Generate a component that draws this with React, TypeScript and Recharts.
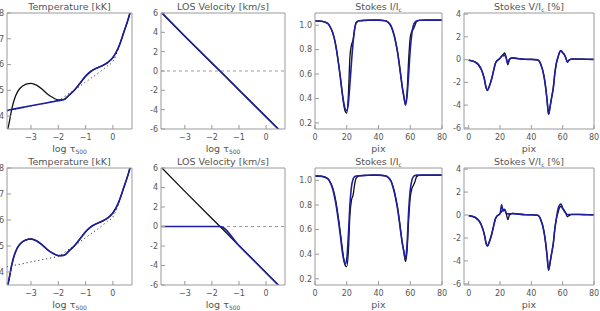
import { Line, LineChart, ReferenceLine, XAxis, YAxis } from "recharts";

// optical depth grid (log tau_500) for the temperature panels
const tauT = [
  -3.88, -3.8, -3.7, -3.6, -3.5, -3.4, -3.2, -3.0, -2.8, -2.6, -2.4, -2.2, -2.0,
  -1.8, -1.6, -1.4, -1.2, -1.0, -0.8, -0.6, -0.4, -0.2, 0.0, 0.2, 0.4, 0.6, 0.7,
];
// model with the chromospheric-like bump
const tempBump = [
  3.35, 3.75, 4.3, 4.68, 4.93, 5.08, 5.23, 5.27, 5.2, 5.05, 4.86, 4.72, 4.63,
  4.64, 4.82, 5.02, 5.28, 5.55, 5.74, 5.86, 5.95, 6.07, 6.27, 6.65, 7.25, 7.9, 8.3,
];
// top-row inversion (no bump)
const tempFlat = [
  4.22, 4.24, 4.26, 4.28, 4.3, 4.32, 4.36, 4.4, 4.44, 4.48, 4.52, 4.56, 4.6,
  4.64, 4.82, 5.02, 5.28, 5.55, 5.74, 5.86, 5.95, 6.07, 6.27, 6.65, 7.25, 7.9, 8.3,
];
// initial guess (dotted)
const tempInit = [
  4.2, 4.22, 4.24, 4.26, 4.28, 4.3, 4.34, 4.39, 4.43, 4.47, 4.51, 4.56, 4.6,
  4.74, 4.88, 5.02, 5.17, 5.32, 5.47, 5.62, 5.78, 5.95, 6.12, 6.6, 7.25, 7.9, 8.3,
];

const tauV = [-3.88, -3.0, -2.0, -1.7, -1.0, 0.0, 0.7];
const velModel = [6.1, 3.6, 0.82, 0.0, -1.96, -4.74, -6.7];
const velFitBottom = [0.0, 0.0, 0.0, 0.0, -1.96, -4.74, -6.7];

// wavelength pixels for the Stokes panels
const pix = [
  0, 4, 8, 10, 11, 12, 13, 14, 15, 16, 17, 18, 19, 20, 21, 22, 23, 24, 25, 26,
  28, 32, 36, 40, 44, 46, 48, 49, 50, 51, 52, 53, 54, 55, 56, 57, 58, 59, 60, 61,
  62, 63, 64, 66, 70, 76, 80,
];
const iObsTop = [
  1.035, 1.033, 1.015, 0.975, 0.945, 0.9, 0.84, 0.76, 0.67, 0.57,
  0.46, 0.36, 0.295, 0.28, 0.42, 0.74, 0.84, 0.88, 0.97, 1.025,
  1.037, 1.04, 1.042, 1.042, 1.037, 1.025, 0.99, 0.955, 0.91, 0.85,
  0.78, 0.69, 0.59, 0.49, 0.41, 0.355, 0.45, 0.72, 0.9, 0.95,
  0.97, 1.0, 1.03, 1.04, 1.042, 1.042, 1.042,
];
const iFitTop = [
  1.035, 1.033, 1.015, 0.975, 0.945, 0.9, 0.84, 0.76, 0.67, 0.57,
  0.46, 0.375, 0.315, 0.3, 0.36, 0.52, 0.7, 0.86, 0.97, 1.02,
  1.037, 1.04, 1.042, 1.042, 1.037, 1.025, 0.99, 0.955, 0.91, 0.85,
  0.78, 0.69, 0.59, 0.49, 0.42, 0.345, 0.42, 0.6, 0.8, 0.93,
  1.0, 1.025, 1.035, 1.04, 1.042, 1.042, 1.042,
];
const iObsBot = [
  1.035, 1.033, 1.015, 0.975, 0.945, 0.9, 0.84, 0.76, 0.67, 0.57,
  0.47, 0.37, 0.31, 0.3, 0.42, 0.72, 0.84, 0.88, 0.97, 1.02,
  1.037, 1.04, 1.042, 1.042, 1.037, 1.025, 0.99, 0.955, 0.91, 0.85,
  0.78, 0.69, 0.59, 0.49, 0.42, 0.34, 0.43, 0.68, 0.86, 0.93,
  0.96, 0.99, 1.03, 1.04, 1.042, 1.042, 1.042,
];
const iFitBot = [
  1.035, 1.033, 1.013, 0.97, 0.935, 0.885, 0.82, 0.74, 0.65, 0.55,
  0.44, 0.36, 0.32, 0.36, 0.55, 0.8, 0.95, 1.01, 1.03, 1.035,
  1.037, 1.04, 1.042, 1.042, 1.037, 1.025, 0.99, 0.95, 0.9, 0.84,
  0.77, 0.68, 0.58, 0.49, 0.42, 0.36, 0.48, 0.75, 0.92, 1.0,
  1.03, 1.04, 1.042, 1.042, 1.042, 1.042, 1.042,
];
const vObsTop = [
  -0.05, -0.2, -0.85, -1.7, -2.4, -2.7, -2.4, -2.0, -1.5, -0.9,
  -0.35, -0.1, 0.0, 0.12, 0.3, 0.45, 0.6, 0.15, -0.45, 0.0,
  0.15, 0.08, 0.03, 0.02, -0.02, -0.4, -1.4, -2.3, -3.5, -4.8,
  -4.1, -3.3, -2.5, -1.2, -0.3, 0.2, 0.65, 0.8, 0.6, 0.45,
  0.15, -0.25, -0.05, 0.05, 0.05, 0.03, 0.02,
];
const vFitTop = [
  -0.05, -0.2, -0.85, -1.7, -2.4, -2.7, -2.4, -2.0, -1.5, -0.9,
  -0.35, -0.1, 0.0, 0.12, 0.3, 0.35, 0.4, 0.1, -0.35, 0.05,
  0.15, 0.08, 0.03, 0.02, -0.02, -0.4, -1.4, -2.3, -3.5, -4.8,
  -4.1, -3.3, -2.5, -1.2, -0.3, 0.2, 0.65, 0.8, 0.6, 0.45,
  0.15, -0.2, -0.05, 0.05, 0.05, 0.03, 0.02,
];
const vObsBot = [
  -0.05, -0.2, -0.85, -1.7, -2.4, -2.7, -2.4, -2.0, -1.5, -0.9,
  -0.35, -0.1, 0.0, 0.12, 0.3, 0.5, 0.45, 0.1, -0.4, 0.0,
  0.15, 0.08, 0.03, 0.02, -0.02, -0.4, -1.4, -2.3, -3.5, -4.8,
  -4.1, -3.3, -2.5, -1.2, -0.3, 0.2, 0.65, 0.75, 0.55, 0.4,
  0.15, -0.15, -0.05, 0.05, 0.05, 0.03, 0.02,
];
const vFitBot = [
  -0.05, -0.2, -0.85, -1.7, -2.4, -2.7, -2.4, -2.0, -1.5, -0.9,
  -0.35, -0.1, 0.0, 0.1, 0.9, 0.35, 0.5, 0.15, 0.1, 0.1,
  0.12, 0.08, 0.03, 0.02, -0.02, -0.4, -1.4, -2.3, -3.5, -4.8,
  -4.1, -3.3, -2.5, -1.2, -0.3, 0.5, 0.85, 0.95, 0.6, 0.35,
  0.15, 0.05, 0.05, 0.05, 0.05, 0.03, 0.02,
];

const tauTicks = [-3, -2, -1, 0];
const pixTicks = [0, 20, 40, 60, 80];
const tempTicks = [4, 5, 6, 7, 8];
const velTicks = [-6, -4, -2, 0, 2, 4, 6];
const iTicks = [0.2, 0.4, 0.6, 0.8, 1.0];
const vTicks = [-6, -4, -2, 0, 2, 4];

const FRAME = "#9a9a9a";
const TXT = "#555";
const BLUE = "#1e1ea0";
const BLACK = "#111";
const FONT = "'DejaVu Sans', sans-serif";

const YW = 22; // room kept left of each plot for the y tick labels
const RM = 10; // room kept right of each plot (last x label)

const zip = (xs: number[], ys: number[]) => xs.map((x, i) => ({ x, y: ys[i] }));
const tauFmt = (v: number) => (v < 0 ? `\u2212${-v}` : `${v}`);

type Series = { data: { x: number; y: number }[]; color: string; width: number; dash?: string };

type PanelProps = {
  x0: number;
  x1: number;
  y0: number;
  y1: number;
  xDomain: [number, number];
  xTicks: number[];
  xFmt?: (v: number) => string;
  yDomain: [number, number];
  yTicks: number[];
  yFmt?: (v: number) => string;
  series: Series[];
  zeroLine?: boolean;
};

const Panel = (p: PanelProps) => {
  const w = p.x1 - p.x0;
  const h = p.y1 - p.y0;
  const tickStyle = { fill: TXT, fontSize: 8, fontFamily: FONT };
  return (
    <div style={{ position: "absolute", left: p.x0 - YW, top: p.y0 - 4 }}>
      <LineChart
        width={w + YW + RM}
        height={h + 24}
        margin={{ top: 4, right: RM, bottom: 0, left: 0 }}
      >
        <XAxis
          xAxisId="x"
          type="number"
          dataKey="x"
          domain={p.xDomain}
          ticks={p.xTicks}
          interval={0}
          allowDataOverflow
          tickFormatter={p.xFmt}
          height={20}
          tickSize={-4}
          tickMargin={9}
          stroke={FRAME}
          tick={tickStyle}
        />
        <XAxis
          xAxisId="top"
          orientation="top"
          mirror
          type="number"
          domain={p.xDomain}
          ticks={p.xTicks}
          interval={0}
          allowDataOverflow
          tick={false}
          tickSize={4}
          stroke={FRAME}
        />
        <YAxis
          yAxisId="y"
          type="number"
          domain={p.yDomain}
          ticks={p.yTicks}
          interval={0}
          allowDataOverflow
          tickFormatter={p.yFmt}
          width={YW}
          tickSize={-4}
          tickMargin={7}
          stroke={FRAME}
          tick={tickStyle}
        />
        <YAxis
          yAxisId="right"
          orientation="right"
          mirror
          type="number"
          domain={p.yDomain}
          ticks={p.yTicks}
          interval={0}
          allowDataOverflow
          tick={false}
          tickSize={4}
          stroke={FRAME}
        />
        {p.zeroLine && (
          <ReferenceLine xAxisId="x" yAxisId="y" y={0} stroke={FRAME} strokeDasharray="3 3" />
        )}
        {p.series.map((s, i) => (
          <Line
            key={i}
            xAxisId="x"
            yAxisId="y"
            data={s.data}
            dataKey="y"
            type="monotone"
            stroke={s.color}
            strokeWidth={s.width}
            strokeDasharray={s.dash}
            dot={false}
            activeDot={false}
            isAnimationActive={false}
          />
        ))}
      </LineChart>
    </div>
  );
};

const rows = [
  { y0: 13, y1: 129 },
  { y0: 168, y1: 285 },
];
const cols = [
  { x0: 7, x1: 132 },
  { x0: 161, x1: 285 },
  { x0: 315, x1: 442 },
  { x0: 464, x1: 594 },
];

const Title = ({ x0, x1, y, children }: { x0: number; x1: number; y: number; children: any }) => (
  <div
    style={{
      position: "absolute",
      left: x0 - 20,
      width: x1 - x0 + 40,
      top: y,
      textAlign: "center",
      fontSize: 9.5,
      lineHeight: "11px",
      color: TXT,
      fontFamily: FONT,
      whiteSpace: "nowrap",
    }}
  >
    {children}
  </div>
);

const Sub = ({ children }: { children: any }) => (
  <span style={{ fontSize: 6, position: "relative", top: 2 }}>{children}</span>
);

const App = () => {
  const panels = rows.map((r, ri) => {
    const top = ri === 0;
    return [
      <Panel
        key={`t${ri}`}
        {...cols[0]}
        {...r}
        xDomain={[-3.88, 0.7]}
        xTicks={tauTicks}
        xFmt={tauFmt}
        yDomain={[3.5, 8]}
        yTicks={tempTicks}
        series={[
          { data: zip(tauT, tempInit), color: BLACK, width: 1, dash: "1 3" },
          { data: zip(tauT, tempBump), color: BLACK, width: 1.3 },
          { data: zip(tauT, top ? tempFlat : tempBump), color: BLUE, width: 1.6 },
        ]}
      />,
      <Panel
        key={`v${ri}`}
        {...cols[1]}
        {...r}
        xDomain={[-3.88, 0.7]}
        xTicks={tauTicks}
        xFmt={tauFmt}
        yDomain={[-6, 6]}
        yTicks={velTicks}
        zeroLine
        series={[
          { data: zip(tauV, velModel), color: BLACK, width: 1.3 },
          { data: zip(tauV, top ? velModel : velFitBottom), color: BLUE, width: 1.6 },
        ]}
      />,
      <Panel
        key={`i${ri}`}
        {...cols[2]}
        {...r}
        xDomain={[0, 80]}
        xTicks={pixTicks}
        yDomain={[0.15, 1.1]}
        yTicks={iTicks}
        yFmt={(v) => v.toFixed(1)}
        series={[
          { data: zip(pix, top ? iObsTop : iObsBot), color: BLACK, width: 1.3 },
          { data: zip(pix, top ? iFitTop : iFitBot), color: BLUE, width: 1.6 },
        ]}
      />,
      <Panel
        key={`s${ri}`}
        {...cols[3]}
        {...r}
        xDomain={[-3, 80]}
        xTicks={pixTicks}
        yDomain={[-6.1, 4.1]}
        yTicks={vTicks}
        series={[
          { data: zip(pix, top ? vObsTop : vObsBot), color: BLACK, width: 1.3 },
          { data: zip(pix, top ? vFitTop : vFitBot), color: BLUE, width: 1.6 },
        ]}
      />,
    ];
  });

  const titles = rows.map((r, ri) => [
    <Title key={`a${ri}`} x0={cols[0].x0} x1={cols[0].x1} y={r.y0 - 12}>
      Temperature [kK]
    </Title>,
    <Title key={`b${ri}`} x0={cols[1].x0} x1={cols[1].x1} y={r.y0 - 12}>
      LOS Velocity [km/s]
    </Title>,
    <Title key={`c${ri}`} x0={cols[2].x0} x1={cols[2].x1} y={r.y0 - 12}>
      Stokes I/I<Sub>c</Sub>
    </Title>,
    <Title key={`d${ri}`} x0={cols[3].x0} x1={cols[3].x1} y={r.y0 - 12}>
      Stokes V/I<Sub>c</Sub> [%]
    </Title>,
    <Title key={`e${ri}`} x0={cols[0].x0} x1={cols[0].x1} y={r.y1 + 14}>
      log τ<Sub>500</Sub>
    </Title>,
    <Title key={`f${ri}`} x0={cols[1].x0} x1={cols[1].x1} y={r.y1 + 14}>
      log τ<Sub>500</Sub>
    </Title>,
    <Title key={`g${ri}`} x0={cols[2].x0} x1={cols[2].x1} y={r.y1 + 14}>
      pix
    </Title>,
    <Title key={`h${ri}`} x0={cols[3].x0} x1={cols[3].x1} y={r.y1 + 14}>
      pix
    </Title>,
  ]);

  return (
    <div
      style={{
        position: "absolute",
        left: 0,
        top: 0,
        width: 600,
        height: 311,
        background: "#fff",
        overflow: "hidden",
      }}
    >
      {panels}
      {titles}
    </div>
  );
};

export default App;
